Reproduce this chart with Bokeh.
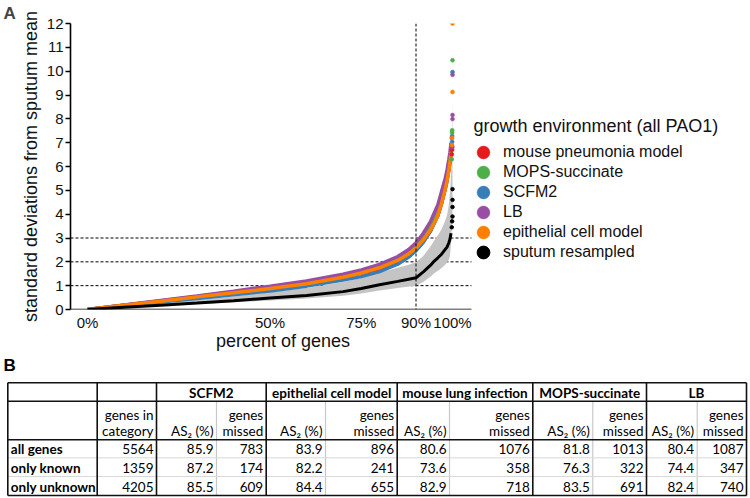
from bokeh.plotting import figure
from bokeh.models import Range1d, Span, Legend, LegendItem, FixedTicker, Label
from bokeh.embed import file_html
from bokeh.resources import INLINE
from bokeh.core.properties import value

# ---------------- data: panel A (sorted deviations vs percent of genes) -------------
pct = [0, 10, 20, 30, 40, 50, 60, 70, 75, 80, 85, 88, 90, 92, 94, 95, 96, 97, 98, 98.5, 99, 99.3, 99.6]

mouse_vals = [0, 0.18, 0.36, 0.54, 0.72, 0.90, 1.11, 1.36, 1.52, 1.71, 2.00, 2.25, 2.50, 2.85, 3.30, 3.65, 3.95, 4.45, 5.05, 5.40, 5.85, 6.20, 6.60]
mops_vals = [0, 0.18, 0.36, 0.55, 0.73, 0.93, 1.14, 1.41, 1.58, 1.82, 2.14, 2.45, 2.74, 3.10, 3.55, 3.85, 4.20, 4.70, 5.30, 5.60, 6.00, 6.35, 6.70]
scfm2_vals = [0, 0.16, 0.31, 0.46, 0.62, 0.78, 0.98, 1.24, 1.38, 1.59, 1.90, 2.20, 2.47, 2.82, 3.30, 3.62, 3.95, 4.45, 5.10, 5.45, 5.90, 6.25, 6.65]
lb_vals = [0, 0.19, 0.38, 0.57, 0.77, 0.98, 1.20, 1.48, 1.66, 1.89, 2.22, 2.52, 2.80, 3.20, 3.70, 4.05, 4.40, 4.95, 5.50, 5.85, 6.30, 6.60, 7.00]
epi_vals = [0, 0.18, 0.35, 0.53, 0.70, 0.88, 1.08, 1.35, 1.53, 1.75, 2.06, 2.33, 2.58, 2.92, 3.35, 3.62, 3.95, 4.45, 5.05, 5.40, 5.85, 6.20, 6.60]
sputum_vals = [0, 0.09, 0.18, 0.27, 0.37, 0.48, 0.59, 0.75, 0.88, 1.04, 1.18, 1.27, 1.33, 1.58, 1.86, 2.03, 2.17, 2.32, 2.52, 2.62, 2.80, 2.95, 3.20]

band_pct = [0, 10, 20, 30, 40, 50, 60, 70, 75, 80, 85, 88, 90, 92, 94, 95, 96, 97, 98, 98.5, 99, 99.3, 99.6, 99.8, 100]
band_low = [0, 0.07, 0.15, 0.22, 0.30, 0.38, 0.46, 0.58, 0.67, 0.80, 0.90, 0.96, 1.00, 1.15, 1.38, 1.52, 1.63, 1.74, 1.88, 1.97, 2.10, 2.25, 2.80, 3.40, 4.20]
band_high = [0, 0.12, 0.25, 0.40, 0.55, 0.72, 0.90, 1.15, 1.32, 1.55, 1.75, 1.88, 1.98, 2.25, 2.65, 2.90, 3.12, 3.37, 3.72, 3.97, 4.40, 4.90, 5.60, 6.50, 8.77]

# extreme genes (top tail, drawn as single points)
mouse_tail_pct = [99.8, 99.9, 99.9]
mouse_tail_vals = [6.51, 6.70, 6.82]
mops_tail_pct = [99.8, 99.9, 99.9, 100]
mops_tail_vals = [6.30, 7.42, 7.52, 10.46]
scfm2_tail_pct = [99.8, 99.9, 99.9, 100]
scfm2_tail_vals = [6.90, 7.04, 7.28, 9.96]
lb_tail_pct = [99.8, 99.9, 100, 100, 100]
lb_tail_vals = [7.20, 6.82, 7.99, 8.16, 9.85]
epi_tail_pct = [99.8, 99.9, 100, 100]
epi_tail_vals = [6.90, 7.20, 9.13, 12.0]
sputum_tail_pct = [99.8, 99.9, 100, 100, 100, 100]
sputum_tail_vals = [3.45, 3.70, 3.90, 4.30, 4.60, 5.05]

series_names = ["mouse pneumonia model", "MOPS-succinate", "SCFM2", "LB", "epithelial cell model", "sputum resampled"]
series_colors = ["#e41a1c", "#4daf4a", "#377eb8", "#984ea3", "#ff7f00", "#000000"]
legend_title = "growth environment (all PAO1)"

x_ticks = [0, 50, 75, 90, 100]
x_tick_labels = ["0%", "50%", "75%", "90%", "100%"]
y_ticks = list(range(0, 13))
threshold_lines = [1, 2, 3]
threshold_pct = 90

# ---------------- data: panel B (table) ----------------
categories = ["all genes", "only known", "only unknown"]
genes_in_category = [5564, 1359, 4205]
environments = ["SCFM2", "epithelial cell model", "mouse lung infection", "MOPS-succinate", "LB"]
as2_pct = [
    [85.9, 87.2, 85.5],
    [83.9, 82.2, 84.4],
    [80.6, 73.6, 82.9],
    [81.8, 76.3, 83.5],
    [80.4, 74.4, 82.4],
]
genes_missed = [
    [783, 174, 609],
    [896, 241, 655],
    [1076, 358, 718],
    [1013, 322, 691],
    [1087, 347, 740],
]

FONT = "Liberation Sans"

# ---------------- panel A ----------------
PW, PH = 750, 355
X0 = -4.66          # left end of x range (axis position)
X_AXIS_END = 105.2  # where the drawn x axis line stops
PX_PER_PCT = 3.65
FRAME_LEFT = 70
FRAME_W = PW - FRAME_LEFT
p = figure(width=PW, height=PH, output_backend="svg", toolbar_location=None,
           x_range=Range1d(X0, X0 + FRAME_W / PX_PER_PCT), y_range=Range1d(0, 12),
           min_border_left=FRAME_LEFT, min_border_right=0, min_border_top=22, min_border_bottom=PH - 309)
p.grid.visible = False
p.outline_line_color = None
p.background_fill_color = "white"

p.title.text = "A"
p.title.text_font = FONT
p.title.text_font_size = "17px"
p.title.text_font_style = "bold"
p.title.align = "left"
p.title.vertical_align = "bottom"
p.title.offset = -(FRAME_LEFT - 3)
p.title.standoff = 2

p.xaxis.ticker = FixedTicker(ticks=x_ticks)
p.xaxis.major_label_overrides = {t: l for t, l in zip(x_ticks, x_tick_labels)}
p.yaxis.ticker = FixedTicker(ticks=y_ticks)
for ax in (p.xaxis, p.yaxis):
    ax.axis_line_width = 1.6
    ax.axis_line_color = "black"
    ax.minor_tick_line_color = None
    ax.major_label_text_font = FONT
    ax.major_label_text_font_size = "15px"
    ax.major_label_text_color = "#111111"
    ax.axis_label_text_font = FONT
    ax.axis_label_text_font_size = "18px"
    ax.axis_label_text_font_style = "normal"
    ax.axis_label_text_color = "#111111"
p.xaxis.axis_line_color = None
p.xaxis.major_tick_line_color = None
p.xaxis.major_tick_out = 0
p.xaxis.major_tick_in = 0
p.xaxis.major_label_standoff = 4
p.xaxis.axis_label_standoff = -3
p.yaxis.major_tick_out = 5
p.yaxis.major_tick_in = 0
p.yaxis.major_tick_line_width = 1.4
p.yaxis.major_label_standoff = 2
p.yaxis.axis_label_standoff = 3
# label is centred on the (wide) frame; trailing no-break spaces shift it under the curves
p.xaxis.axis_label = "percent of genes" + "\u00a0" * 51
p.yaxis.axis_label = "standard deviations from sputum mean"

# x axis base line and threshold lines only across the data area
p.segment(x0=[X0], x1=[X_AXIS_END], y0=[0], y1=[0], line_color="black", line_width=1.6)
p.segment(x0=[X0] * len(threshold_lines), x1=[X_AXIS_END] * len(threshold_lines),
          y0=threshold_lines, y1=threshold_lines, line_color="black", line_width=1, line_dash="3 2")
p.add_layout(Span(location=threshold_pct, dimension="height", line_color="black", line_width=1, line_dash="3 2"))

p.varea(x=band_pct, y1=band_low, y2=band_high, fill_color="#c4c4c4")

curve_vals = [mouse_vals, mops_vals, scfm2_vals, lb_vals, epi_vals]
tails = [(mouse_tail_pct, mouse_tail_vals), (mops_tail_pct, mops_tail_vals),
         (scfm2_tail_pct, scfm2_tail_vals), (lb_tail_pct, lb_tail_vals),
         (epi_tail_pct, epi_tail_vals)]
draw_order = [0, 2, 1, 3, 4]
tail_renderers = {}
for i in draw_order:
    p.line(pct, curve_vals[i], line_color=series_colors[i], line_width=3.5)
for i in draw_order:
    tp, tv = tails[i]
    tail_renderers[i] = p.scatter(tp, tv, marker="circle", size=4, fill_color=series_colors[i],
                                  line_color=series_colors[i], line_width=0.5)
p.line(pct, sputum_vals, line_color="black", line_width=3)
tail_renderers[5] = p.scatter(sputum_tail_pct, sputum_tail_vals, marker="circle", size=3.5,
                              fill_color="black", line_color="black")

# legend: one single-entry legend per row (lets the markers be large at 20px row pitch)
for k in range(6):
    lg = Legend(items=[LegendItem(label=series_names[k], renderers=[tail_renderers[k]])],
                location=(397, 141 - 20 * k), orientation="vertical",
                glyph_width=32, glyph_height=32, label_height=20,
                label_standoff=4, padding=0, margin=0,
                background_fill_alpha=0, border_line_color=None,
                label_text_font=FONT, label_text_font_size="16px", label_text_color="#111111")
    p.add_layout(lg, "center")
p.add_layout(Label(x=X0 + (473 - FRAME_LEFT) / PX_PER_PCT, y=7.7, text=legend_title, text_font=FONT,
                   text_font_size="18px", text_baseline="middle", text_align="left", text_color="#111111"))

# ---------------- panel B (table) ----------------
TW, TH = 750, 142
TOP = PH  # page y where the table figure starts
t = figure(width=TW, height=TH, output_backend="svg", toolbar_location=None,
           x_range=Range1d(0, TW), y_range=Range1d(TH, 0),
           x_axis_location=None, y_axis_location=None, min_border=0)
t.grid.visible = False
t.outline_line_color = None

col_edges = [7.3, 96.7, 156, 216, 265.7, 325, 396.7, 449, 532.3, 592.3, 646, 696.7, 746]
row_edges_page = [382.3, 400.7, 439.3, 457.3, 476, 495]
cx = col_edges
ry = [r - TOP for r in row_edges_page]

black_cols = [0, 1, 2, 4, 6, 8, 10, 12]
gray_cols = [3, 5, 7, 9, 11]
t.segment(x0=[cx[i] for i in gray_cols], x1=[cx[i] for i in gray_cols],
          y0=[ry[1]] * len(gray_cols), y1=[ry[5]] * len(gray_cols), line_color="#c8c8c8", line_width=1.2)
t.segment(x0=[cx[0]] * 2, x1=[cx[12]] * 2, y0=[ry[3], ry[4]], y1=[ry[3], ry[4]],
          line_color="#d8d8d8", line_width=1)
t.segment(x0=[cx[i] for i in black_cols], x1=[cx[i] for i in black_cols],
          y0=[ry[0]] * len(black_cols), y1=[ry[5]] * len(black_cols), line_color="#111111", line_width=1.6)
t.segment(x0=[cx[0]] * 4, x1=[cx[12]] * 4, y0=[ry[0], ry[1], ry[2], ry[5]], y1=[ry[0], ry[1], ry[2], ry[5]],
          line_color="#111111", line_width=1.6)

TFONT = value("Lato")
TSIZE = "13.5px"
pad = 3
row_mid = [(ry[k] + ry[k + 1]) / 2 + 0.5 for k in range(5)]
line1 = ry[1] + (ry[2] - ry[1]) * 0.36
line2 = ry[1] + (ry[2] - ry[1]) * 0.77

gx = [(cx[2 + 2 * k] + cx[4 + 2 * k]) / 2 for k in range(len(environments))]
t.text(x=gx, y=[row_mid[0]] * len(environments), text=environments, text_font=TFONT,
       text_font_size=TSIZE, text_font_style="bold", text_align="center", text_baseline="middle",
       text_color="black")

hx, hy, ht = [], [], []
hx += [cx[2] - pad, cx[2] - pad]; hy += [line1, line2]; ht += ["genes in", "category"]
for k in range(len(environments)):
    hx += [cx[3 + 2 * k] - pad, cx[4 + 2 * k] - pad, cx[4 + 2 * k] - pad]
    hy += [line2, line1, line2]
    ht += ["AS\u2082 (%)", "genes", "missed"]
t.text(x=hx, y=hy, text=ht, text_font=TFONT, text_font_size=TSIZE, text_align="right",
       text_baseline="middle", text_color="black")

t.text(x=[cx[0] + 3] * 3, y=row_mid[2:5], text=categories, text_font=TFONT, text_font_size=TSIZE,
       text_font_style="bold", text_align="left", text_baseline="middle", text_color="black")

nx, ny, nt = [], [], []
for r in range(len(categories)):
    nx.append(cx[2] - pad); ny.append(row_mid[2 + r]); nt.append(str(genes_in_category[r]))
    for k in range(len(environments)):
        nx.append(cx[3 + 2 * k] - pad); ny.append(row_mid[2 + r]); nt.append(f"{as2_pct[k][r]:.1f}")
        nx.append(cx[4 + 2 * k] - pad); ny.append(row_mid[2 + r]); nt.append(str(genes_missed[k][r]))
t.text(x=nx, y=ny, text=nt, text_font=TFONT, text_font_size=TSIZE, text_align="right",
       text_baseline="middle", text_color="black")

t.text(x=[3], y=[365 - TOP], text=["B"], text_font=value(FONT), text_font_size="17px", text_font_style="bold",
       text_align="left", text_baseline="middle", text_color="black")

open("out.html", "w").write(file_html([p, t], INLINE))
